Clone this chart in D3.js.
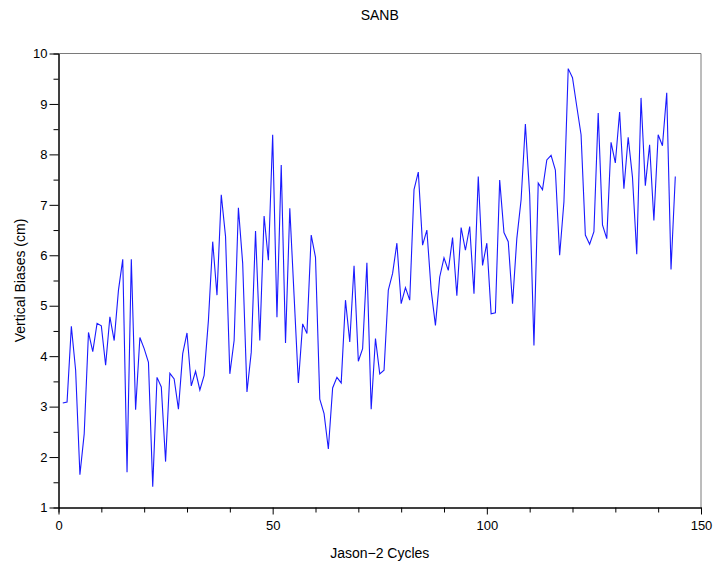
<!DOCTYPE html>
<html>
<head>
<meta charset="utf-8">
<script src="https://cdn.jsdelivr.net/npm/d3@7"></script>
<style>
    body { margin: 0; background: #fff; }
    text { font-family: "Liberation Sans", Arial, sans-serif; fill: #000; }
</style>
</head>
<body>
<div id="graph"></div>
<script>
// Jason-2 cycle numbers (1..144)
const cycles = d3.range(1, 145);

// vertical biases (cm), one per cycle
const biases = [
    3.07, 3.09, 4.59, 3.72, 1.65, 2.46, 4.47, 4.09, 4.65, 4.60,
    3.82, 4.78, 4.31, 5.31, 5.92, 1.70, 5.92, 2.94, 4.37, 4.15,
    3.88, 1.41, 3.58, 3.39, 1.91, 3.66, 3.55, 2.95, 4.05, 4.46,
    3.41, 3.70, 3.33, 3.62, 4.71, 6.27, 5.21, 7.20, 6.37, 3.65,
    4.31, 6.94, 5.84, 3.29, 4.08, 6.48, 4.31, 6.78, 5.90, 8.39,
    4.77, 7.79, 4.26, 6.93, 5.20, 3.47, 4.64, 4.45, 6.40, 5.96,
    3.15, 2.86, 2.16, 3.37, 3.58, 3.47, 5.11, 4.28, 5.79, 3.90,
    4.15, 5.85, 2.95, 4.35, 3.65, 3.72, 5.31, 5.64, 6.24, 5.04,
    5.36, 5.11, 7.30, 7.65, 6.20, 6.50, 5.31, 4.61, 5.57, 5.95,
    5.70, 6.35, 5.20, 6.55, 6.10, 6.57, 5.24, 7.56, 5.80, 6.24,
    4.84, 4.86, 7.49, 6.45, 6.27, 5.04, 6.33, 7.10, 8.60, 7.20,
    4.21, 7.43, 7.30, 7.89, 7.98, 7.69, 6.00, 7.06, 9.70, 9.52,
    8.95, 8.39, 6.40, 6.22, 6.47, 8.82, 6.60, 6.33, 8.24, 7.83,
    8.84, 7.32, 8.34, 7.55, 6.02, 9.12, 7.38, 8.19, 6.69, 8.39,
    8.17, 9.22, 5.72, 7.56
];

const xMajorTicks = [0, 50, 100, 150];
const xMinorTicks = [10, 20, 30, 40, 60, 70, 80, 90, 110, 120, 130, 140];
const yMajorTicks = [1, 2, 3, 4, 5, 6, 7, 8, 9, 10];
const yMinorTicks = [1.5, 2.5, 3.5, 4.5, 5.5, 6.5, 7.5, 8.5, 9.5];

const titleText = "SANB";
const xLabel = "Jason\u22122 Cycles";
const yLabel = "Vertical Biases (cm)";

const width = 713;
const height = 562;
const margin = {top: 53.5, right: 12, bottom: 54.5, left: 58.5};
const innerW = width - margin.left - margin.right;
const innerH = height - margin.top - margin.bottom;

const svg = d3.select("#graph")
    .append("svg")
        .attr("width", width)
        .attr("height", height);

const g = svg.append("g")
    .attr("transform", `translate(${margin.left}, ${margin.top})`);

const x = d3.scaleLinear().domain([0, 150]).range([0, innerW]);
const y = d3.scaleLinear().domain([1, 10]).range([innerH, 0]);

// top + right frame
g.append("path")
    .attr("d", `M0,0H${innerW}V${innerH}`)
    .attr("fill", "none")
    .attr("stroke", "#7a7a7a")
    .attr("stroke-width", 1);

// line
const line = d3.line()
    .x((d, i) => x(cycles[i]))
    .y(d => y(d));

g.append("path")
    .datum(biases)
    .attr("fill", "none")
    .attr("stroke", "#1a1aff")
    .attr("stroke-width", 1.1)
    .attr("stroke-linejoin", "miter")
    .attr("d", line);

function styleAxis(sel) {
    sel.select(".domain").attr("stroke", "#000");
    sel.selectAll(".tick line").attr("stroke", "#000");
    sel.selectAll("text")
        .style("font-family", "'Liberation Sans', Arial, sans-serif")
        .style("font-size", "13px")
        .attr("fill", "#000");
}

// x axis
g.append("g")
    .attr("transform", `translate(0, ${innerH})`)
    .call(d3.axisBottom(x).tickValues(xMinorTicks).tickSize(5).tickFormat(""))
    .call(styleAxis);

g.append("g")
    .attr("transform", `translate(0, ${innerH})`)
    .call(d3.axisBottom(x).tickValues(xMajorTicks).tickSize(7).tickSizeOuter(0).tickPadding(6).tickFormat(d3.format("d")))
    .call(styleAxis);

// y axis
g.append("g")
    .call(d3.axisLeft(y).tickValues(yMinorTicks).tickSize(5).tickFormat(""))
    .call(styleAxis);

g.append("g")
    .call(d3.axisLeft(y).tickValues(yMajorTicks).tickSize(9).tickSizeOuter(0).tickPadding(2).tickFormat(d3.format("d")))
    .call(styleAxis);

// titles
svg.append("text")
    .attr("x", margin.left + innerW / 2)
    .attr("y", 20)
    .attr("text-anchor", "middle")
    .style("font-size", "14px")
    .text(titleText);

svg.append("text")
    .attr("x", margin.left + innerW / 2)
    .attr("y", 558)
    .attr("text-anchor", "middle")
    .style("font-size", "14px")
    .text(xLabel);

svg.append("text")
    .attr("transform", `translate(25, ${margin.top + innerH / 2}) rotate(-90)`)
    .attr("text-anchor", "middle")
    .style("font-size", "14px")
    .text(yLabel);
</script>
</body>
</html>
